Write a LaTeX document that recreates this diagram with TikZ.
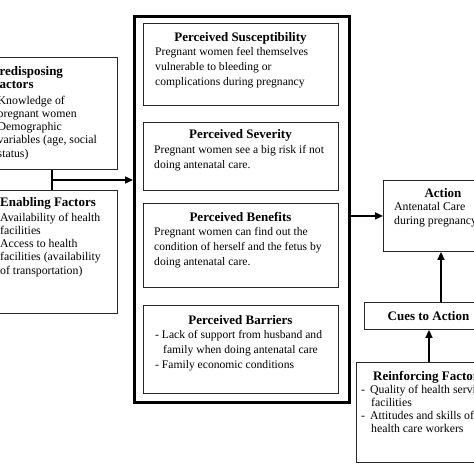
\documentclass[tikz,border=0pt]{standalone}
\usepackage{fontspec}
\setmainfont{Liberation Serif}
\usetikzlibrary{arrows.meta}
\begin{document}
\begin{tikzpicture}[x=1pt,y=-1pt,
  box/.style={draw=black!85, line width=0.9pt, inner sep=0pt, anchor=north west},
  bigbox/.style={draw, line width=2.6pt, inner sep=0pt, anchor=north west},
  ttl/.style={font=\fontsize{13}{14}\selectfont\bfseries, inner sep=0pt},
  body/.style={font=\fontsize{11.6}{15}\selectfont, inner sep=0pt, align=left, anchor=north west},
  sbody/.style={font=\fontsize{11.8}{13.3}\selectfont, inner sep=0pt, align=left, anchor=north west},
  con/.style={line width=1.5pt},
  arr/.style={line width=1.5pt, -{Triangle[length=8pt,width=7pt]}}]
\useasboundingbox (0,0) rectangle (474,474);
\fill[white] (0,0) rectangle (474,474);
\clip (0,0) rectangle (474,474);

% central model box
\node[bigbox, minimum width=215pt, minimum height=386pt] (hbm) at (133,15) {};
\node[box, minimum width=195pt, minimum height=82pt] (sus) at (143,23) {};
\node[box, minimum width=195pt, minimum height=68pt] (sev) at (143,122) {};
\node[box, minimum width=195pt, minimum height=84pt] (ben) at (143,203) {};
\node[box, minimum width=195pt, minimum height=88pt] (bar) at (143,305) {};

\node[ttl] (susT) at (240.5,38) {Perceived Susceptibility};
\node[body] (susB) at (155,47.5) {Pregnant women feel themselves\\vulnerable to bleeding or\\complications during pregnancy};
\node[ttl] (sevT) at (240.5,135) {Perceived Severity};
\node[body] (sevB) at (154,145) {Pregnant women see a big risk if not\\doing antenatal care.};
\node[ttl] (benT) at (240.5,217) {Perceived Benefits};
\node[body] (benB) at (154,227.5) {Pregnant women can find out the\\condition of herself and the fetus by\\doing antenatal care.};
\node[ttl] (barT) at (240.5,320) {Perceived Barriers};
\node[body] (barB) at (155,330.5) {- Lack of support from husband and\\\hspace*{8pt}family when doing antenatal care\\- Family economic conditions};

% left boxes
\node[box, minimum width=137pt, minimum height=112pt] (pre) at (-20,57) {};
\node[ttl, align=left, anchor=north west, font=\fontsize{13}{13.3}\selectfont\bfseries] (preT) at (-8.5,66) {Predisposing\\Factors};
\node[sbody] (preB) at (-2.5,95.5) {Knowledge of\\pregnant women\\Demographic\\variables (age, social\\status)};

\node[box, minimum width=137pt, minimum height=123pt] (ena) at (-20,190) {};
\node[ttl, anchor=west] (enaT) at (0,203) {Enabling Factors};
\node[sbody] (enaB) at (0,212.5) {Availability of health\\facilities\\Access to health\\facilities (availability\\of transportation)};

% right boxes
\node[box, minimum width=122pt, minimum height=71pt] (act) at (383,180) {};
\node[ttl] (actT) at (443,193) {Action};
\node[sbody] (actB) at (394,202.5) {Antenatal Care\\during pregnancy};

\node[box, minimum width=128pt, minimum height=27pt] (cue) at (364,302) {};
\node[ttl] (cueT) at (cue.center) {Cues to Action};

\node[box, minimum width=146pt, minimum height=100pt] (rf) at (356,362) {};
\node[ttl, anchor=west] (rfT) at (373,377) {Reinforcing Factors};
\node[sbody] (rfB) at (361,384.5) {-\hspace*{5pt}Quality of health services\\\hspace*{10pt}facilities\\-\hspace*{5pt}Attitudes and skills of\\\hspace*{10pt}health care workers};

% connectors
\coordinate (j) at (52,180);
\draw[con] (pre.south -| j) -- (ena.north -| j);
\draw[arr] (j) -- (hbm.west |- j);
\draw[arr] (hbm.east |- act.west) -- (act.west);
\coordinate (c1) at (441,0);
\draw[arr] (cue.north -| c1) -- (act.south -| c1);
\coordinate (c2) at (429,0);
\draw[arr] (rf.north -| c2) -- (cue.south -| c2);
\end{tikzpicture}
\end{document}
